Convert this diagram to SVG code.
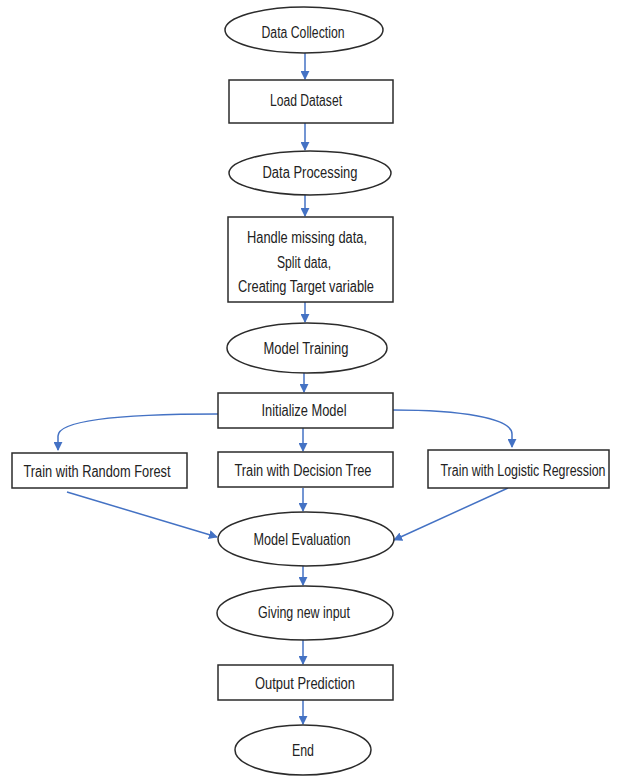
<svg xmlns="http://www.w3.org/2000/svg" width="618" height="776" viewBox="0 0 618 776">
<defs>
<marker id="ah" viewBox="0 0 10 10" refX="9" refY="5" markerWidth="9" markerHeight="9" markerUnits="userSpaceOnUse" orient="auto">
<path d="M0,0 L10,5 L0,10 z" fill="#4472C4"/>
</marker>
<style>
.n{fill:#fff;stroke:#2b2b2b;stroke-width:1.5}
.t{font-family:"Liberation Sans",Arial,sans-serif;font-size:16px;fill:#222;text-anchor:middle}
.c{fill:none;stroke:#4472C4;stroke-width:1.5;marker-end:url(#ah)}
</style>
</defs>
<rect width="618" height="776" fill="#fff"/>
<g id="connectors">
<path class="c" d="M305,53 V79"/>
<path class="c" d="M305,123 V150"/>
<path class="c" d="M305,195 V216"/>
<path class="c" d="M305,302 V322"/>
<path class="c" d="M304,373 V392"/>
<path class="c" d="M303,428 V451"/>
<path class="c" d="M303,488 V511"/>
<path class="c" d="M303,566 V585"/>
<path class="c" d="M303,640 V664"/>
<path class="c" d="M303,700 V724"/>
<path class="c" d="M218,414 C140,414 58,418 58,436 V450"/>
<path class="c" d="M393,410 C460,410 512,418 512,434 V447"/>
<path class="c" d="M67,492 L217,537"/>
<path class="c" d="M508,488 L394,540"/>
</g>
<g id="data-collection"><ellipse class="n" cx="304" cy="30" rx="79" ry="23"/><text class="t" x="303" y="38" textLength="83" lengthAdjust="spacingAndGlyphs">Data Collection</text></g>
<g id="load-dataset"><rect class="n" x="229" y="80" width="164" height="43"/><text class="t" x="306" y="106" textLength="72" lengthAdjust="spacingAndGlyphs">Load Dataset</text></g>
<g id="data-processing"><ellipse class="n" cx="310" cy="173" rx="81" ry="22"/><text class="t" x="310" y="178" textLength="95" lengthAdjust="spacingAndGlyphs">Data Processing</text></g>
<g id="handle"><rect class="n" x="228" y="217" width="165" height="85"/>
<text class="t" x="307" y="243" textLength="120" lengthAdjust="spacingAndGlyphs">Handle missing data,</text>
<text class="t" x="304" y="268" textLength="54" lengthAdjust="spacingAndGlyphs">Split data,</text>
<text class="t" x="306" y="292" textLength="136" lengthAdjust="spacingAndGlyphs">Creating Target variable</text></g>
<g id="model-training"><ellipse class="n" cx="307" cy="348" rx="80" ry="25"/><text class="t" x="306" y="354" textLength="85" lengthAdjust="spacingAndGlyphs">Model Training</text></g>
<g id="initialize-model"><rect class="n" x="218" y="393" width="175" height="35"/><text class="t" x="304" y="416" textLength="85" lengthAdjust="spacingAndGlyphs">Initialize Model</text></g>
<g id="random-forest"><rect class="n" x="12" y="453" width="175" height="35"/><text class="t" x="97" y="477" textLength="147" lengthAdjust="spacingAndGlyphs">Train with Random Forest</text></g>
<g id="decision-tree"><rect class="n" x="218" y="452" width="175" height="35"/><text class="t" x="303" y="476" textLength="137" lengthAdjust="spacingAndGlyphs">Train with Decision Tree</text></g>
<g id="logistic-regression"><rect class="n" x="428" y="450" width="181" height="38"/><text class="t" x="523" y="476" textLength="165" lengthAdjust="spacingAndGlyphs">Train with Logistic Regression</text></g>
<g id="model-evaluation"><ellipse class="n" cx="306" cy="539" rx="88" ry="27"/><text class="t" x="302" y="545" textLength="97" lengthAdjust="spacingAndGlyphs">Model Evaluation</text></g>
<g id="giving-new-input"><ellipse class="n" cx="305" cy="613" rx="88" ry="27"/><text class="t" x="304" y="618" textLength="92" lengthAdjust="spacingAndGlyphs">Giving new input</text></g>
<g id="output-prediction"><rect class="n" x="218" y="665" width="175" height="35"/><text class="t" x="305" y="689" textLength="100" lengthAdjust="spacingAndGlyphs">Output Prediction</text></g>
<g id="end"><ellipse class="n" cx="303" cy="750" rx="68" ry="25"/><text class="t" x="303" y="756" textLength="22" lengthAdjust="spacingAndGlyphs">End</text></g>
</svg>
